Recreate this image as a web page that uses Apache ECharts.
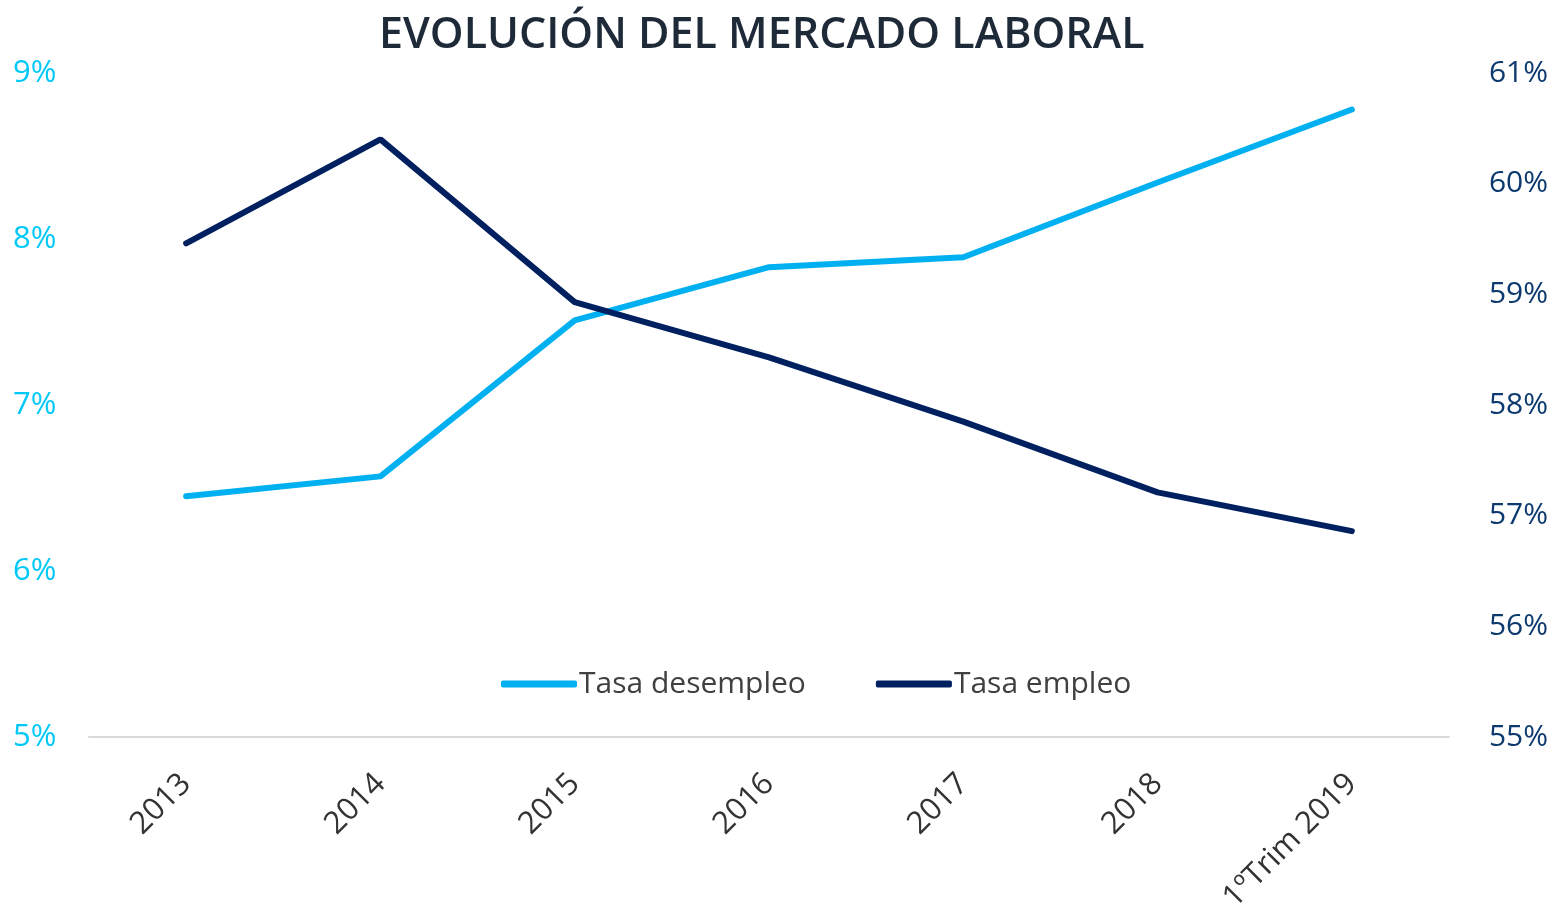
<!DOCTYPE html>
<html><head><meta charset="utf-8">
<script src="https://cdn.jsdelivr.net/npm/echarts@6/dist/echarts.min.js"></script>
<style>html,body{margin:0;padding:0;background:#fff}#c{width:1553px;height:920px}</style>
</head><body><div id="c"></div>
<script>
const categories = ['2013','2014','2015','2016','2017','2018','1ºTrim 2019'];
const tasaDesempleo = [6.45, 6.57, 7.51, 7.83, 7.89, 8.34, 8.78];
const tasaEmpleo = [59.46, 60.40, 58.93, 58.43, 57.85, 57.21, 56.86];
const leftTicks = [5, 6, 7, 8, 9];
const rightTicks = [55, 56, 57, 58, 59, 60, 61];

const chart = echarts.init(document.getElementById('c'), null, {renderer:'canvas'});
const font = 'Open Sans';
chart.setOption({
  animation:false,
  title:{text:'EVOLUCIÓN DEL MERCADO LABORAL', left:374, top:9,
    textStyle:{fontFamily:'Open Sans', fontSize:43, fontWeight:600, color:'#1f2a38'}},
  legend:{top:664, left:496, itemGap:70, itemWidth:76, itemHeight:7,
    icon:'roundRect',
    textStyle:{fontFamily:font, fontSize:30, color:'#404040', padding:[0,0,0,-3]},
    data:['Tasa desempleo','Tasa empleo']},
  grid:{left:89, right:104, top:73, bottom:183},
  xAxis:{type:'category', data:categories, boundaryGap:true,
    axisLine:{lineStyle:{color:'#d9d9d9', width:2}}, axisTick:{show:false},
    axisLabel:{rotate:45, fontFamily:font, fontSize:31, color:'#333', margin:42, interval:0}},
  yAxis:[
    {type:'value', min:5, max:9, interval:1, position:'left',
     splitLine:{show:false}, axisLine:{show:false}, axisTick:{show:false},
     axisLabel:{formatter:v=>leftTicks.includes(v)?v+'%':'', fontFamily:font, fontSize:31, color:'#00c8f8', align:'left', margin:76}},
    {type:'value', min:55, max:61, interval:1, position:'right',
     splitLine:{show:false}, axisLine:{show:false}, axisTick:{show:false},
     axisLabel:{formatter:v=>rightTicks.includes(v)?v+'%':'', fontFamily:font, fontSize:30, color:'#0d3a6e', align:'right', margin:99}}
  ],
  series:[
    {name:'Tasa desempleo', type:'line', yAxisIndex:0, data:tasaDesempleo, symbol:'none',
     lineStyle:{color:'#00b0f0', width:6, cap:'round'}, itemStyle:{color:'#00b0f0'}},
    {name:'Tasa empleo', type:'line', yAxisIndex:1, data:tasaEmpleo, symbol:'none',
     lineStyle:{color:'#002060', width:6, cap:'round'}, itemStyle:{color:'#002060'}}
  ]
});
</script></body></html>
